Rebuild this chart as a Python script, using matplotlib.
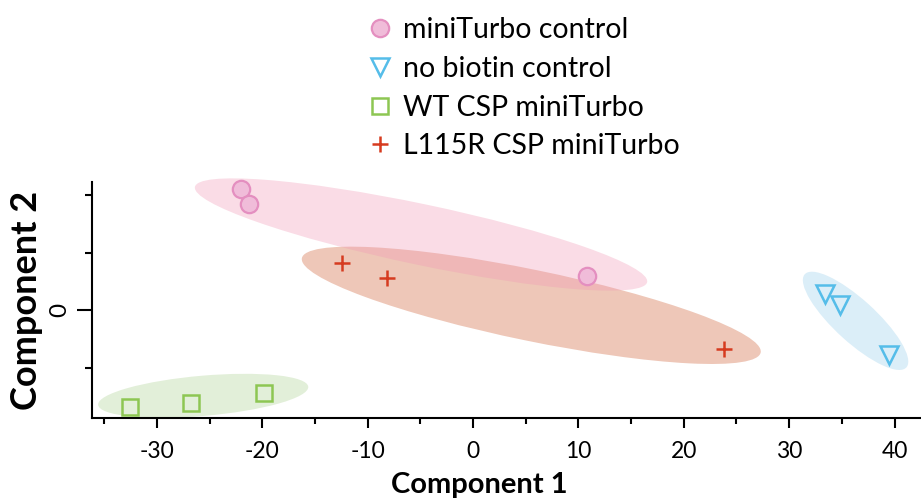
import matplotlib
matplotlib.use("Agg")
import matplotlib.pyplot as plt
from matplotlib.patches import Ellipse
from matplotlib.ticker import FixedLocator

plt.rcParams['font.family'] = ['Lato', 'DejaVu Sans']
plt.rcParams['axes.unicode_minus'] = False

# PCA scores
mini_x = [-22.0, -21.3, 10.8]
mini_y = [10.5, 9.2, 3.0]
nobio_x = [33.4, 34.8, 39.5]
nobio_y = [1.4, 0.46, -3.88]
wt_x = [-32.5, -26.75, -19.8]
wt_y = [-8.4, -8.1, -7.25]
l115_x = [-12.4, -8.2, 23.8]
l115_y = [4.1, 2.75, -3.39]

labels = ["miniTurbo control", "no biotin control", "WT CSP miniTurbo", "L115R CSP miniTurbo"]

# group ellipses: green, blue, orange, pink
ell_cx = [-25.6, 36.3, 5.53, -4.93]
ell_cy = [-7.46, -0.94, 0.41, 6.57]
ell_w = [20.0, 12.6, 44.3, 43.7]
ell_h = [3.5, 3.8, 6.2, 5.3]
ell_ang = [4.5, -39.6, -10.65, -10.9]
ell_col = [(170/255, 209/255, 144/255), (150/255, 206/255, 235/255),
           (206/255, 91/255, 47/255), (241/255, 153/255, 182/255)]

x_major = [-30, -20, -10, 0, 10, 20, 30, 40]
x_minor = [-35, -25, -15, -5, 5, 15, 25, 35]
y_major = [0]
y_minor = [-5, 5, 10]

fig = plt.figure(figsize=(9.21, 5.04), dpi=100)
ax = fig.add_axes([0.0999, 0.170, 0.900, 0.4694])

for cx, cy, w, h, a, c in zip(ell_cx, ell_cy, ell_w, ell_h, ell_ang, ell_col):
    ax.add_patch(Ellipse((cx, cy), w, h, angle=a, facecolor=c, alpha=0.34,
                         edgecolor='none', zorder=1, clip_on=False))

h1, = ax.plot(mini_x, mini_y, 'o', ms=12.5, mfc='#f0bcd9', mec='#e48fc0', mew=1.6, zorder=3, clip_on=False)
h2, = ax.plot(nobio_x, nobio_y, 'v', ms=13, mfc='none', mec='#55bde9', mew=1.8, zorder=3, clip_on=False)
h3, = ax.plot(wt_x, wt_y, 's', ms=11.5, mfc='none', mec='#8dc653', mew=1.8, zorder=3, clip_on=False)
h4, = ax.plot(l115_x, l115_y, '+', ms=12, mec='#d63b1f', mew=1.8, zorder=3, clip_on=False)

ax.set_xlim(-36.15, 42.5)
ax.set_ylim(-9.42, 11.16)

for s in ['top', 'right']:
    ax.spines[s].set_visible(False)
for s in ['left', 'bottom']:
    ax.spines[s].set_linewidth(1.5)

ax.xaxis.set_major_locator(FixedLocator(x_major))
ax.xaxis.set_minor_locator(FixedLocator(x_minor))
ax.yaxis.set_major_locator(FixedLocator(y_major))
ax.yaxis.set_minor_locator(FixedLocator(y_minor))
ax.tick_params(axis='x', which='major', length=7.5, width=1.5, labelsize=16.5, pad=9)
ax.tick_params(axis='x', which='minor', length=4.5, width=1.5)
ax.tick_params(axis='y', which='major', length=11, width=1.5, labelsize=17.5, pad=5)
ax.tick_params(axis='y', which='minor', length=5, width=1.5)
for t in ax.get_yticklabels():
    t.set_rotation(90)
    t.set_va('center')

ax.set_xlabel("Component 1", fontsize=21, fontweight='bold', va='center')
ax.xaxis.set_label_coords(0.467, -0.282)
ax.set_ylabel("Component 2", fontsize=26, fontweight='bold', va='center')
ax.yaxis.set_label_coords(-0.0788, 0.50)

fig.legend([h1, h2, h3, h4], labels, loc='upper left',
           bbox_to_anchor=(369 / 921, 1 - 17 / 504), frameon=False, fontsize=20.5,
           handlelength=0.8, handletextpad=0.4, labelspacing=0.45,
           borderpad=0, borderaxespad=0)

fig.savefig("out.png", dpi=100)
